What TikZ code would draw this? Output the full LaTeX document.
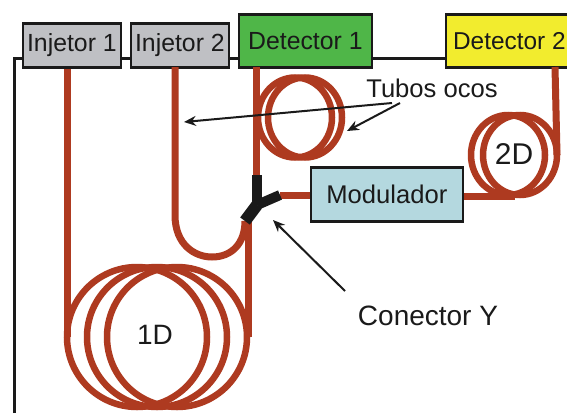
\documentclass[tikz,border=0pt]{standalone}
\usepackage{fontspec}
\setmainfont{Liberation Sans}
\usetikzlibrary{arrows.meta}
\definecolor{tube}{HTML}{AE3A20}
\definecolor{boxgray}{HTML}{BFC0C4}
\definecolor{boxgreen}{HTML}{4FB648}
\definecolor{boxyellow}{HTML}{F2EC2E}
\definecolor{boxblue}{HTML}{B4D8DF}
\definecolor{ink}{HTML}{1A1A1A}
\tikzset{
  devbox/.style={draw=ink,line width=2.8pt,inner sep=0pt,anchor=north west,font=\fontsize{24.8}{26}\selectfont,text=ink},
  tubo/.style={draw=tube,line width=7pt},
  fino/.style={draw=tube,line width=6.5pt},
  seta/.style={draw=ink,line width=2pt,-{Stealth[length=12pt,width=10pt]}},
  rotulo/.style={font=\fontsize{25.6}{27}\selectfont,text=ink,inner sep=0pt},
}
\begin{document}
\begin{tikzpicture}[x=1pt,y=-1pt]
\clip (0,0) rectangle (567,413);
\fill[white] (0,0) rectangle (567,413);
% frame
\coordinate (fb) at (14,413);
\coordinate (ft) at (14,58);
\coordinate (fr) at (445,58);
\draw[ink,line width=3pt] (fb) -- (ft) -- (fr);
% coils
\foreach \c in {137,157,177} \draw[fino] (\c,337) circle (70);
\foreach \c in {295,305} \draw[fino] (\c,117.5) ellipse (37 and 40);
\foreach \c in {508,520} \draw[fino] (\c,155) ellipse (37 and 40);
% boxes
\node[devbox,fill=boxgray,minimum width=98pt,minimum height=44pt] (i1) at (21.5,22) {Injetor 1};
\node[devbox,fill=boxgray,minimum width=98pt,minimum height=44pt] (i2) at (129.5,22) {Injetor 2};
\node[devbox,fill=boxgreen,minimum width=133pt,minimum height=53pt] (d1) at (237.5,13) {Detector 1};
\node[devbox,fill=boxyellow,minimum width=135pt,minimum height=53pt,font=\fontsize{24.4}{26}\selectfont] (d2) at (444.5,13) {\hspace*{-8pt}Detector 2};
\node[devbox,fill=boxblue,minimum width=152pt,minimum height=54pt,font=\fontsize{25.6}{27}\selectfont] (mod) at (309.5,166) {Modulador};
% tube ends
\coordinate (c1) at (67,337);
\coordinate (yb) at (245,221);
\coordinate (yu) at (256,178);
\coordinate (yr) at (280,195);
\coordinate (yc) at (257,205);
\coordinate (c2) at (248,337);
\coordinate (c3) at (557,155);
\coordinate (c4) at (515,196);
% tubes
\draw[tubo] (i1.south -| c1) -- (c1);
\draw[tubo] (175,67) -- (175,215) .. controls (175,245) and (195,257) .. (212,257) .. controls (232,257) and (245,243) .. (yb);
\draw[tubo] (248,221) -- (c2);
\draw[tubo] (256,67) -- (yu);
\draw[tubo] (yr) -- (mod.west |- yr);
\draw[tubo] (mod.east |- c4) -- (c4);
\draw[tubo] (555,67) -- (c3);
% Y connector
\draw[ink,line width=12pt] (yc) -- (yb);
\draw[ink,line width=10pt] (yc) -- (257,175);
\draw[ink,line width=10pt] (yc) -- (yr);
% labels
\node[rotulo,font=\fontsize{28}{30}\selectfont] (l1) at (155,335) {1D};
\node[rotulo,font=\fontsize{30}{32}\selectfont] (l2) at (514,154) {2D};
\node[rotulo] (tub) at (432,88) {Tubos ocos};
\node[rotulo,font=\fontsize{28}{30}\selectfont] (cy) at (428,316) {Conector Y};
% arrows
\coordinate (a1) at (184,122);
\coordinate (a2) at (347,131);
\coordinate (a3) at (273,220);
\draw[seta] (392,103) -- (a1);
\draw[seta] (400,103) -- (a2);
\draw[seta] (345,291) -- (a3);
\end{tikzpicture}
\end{document}
